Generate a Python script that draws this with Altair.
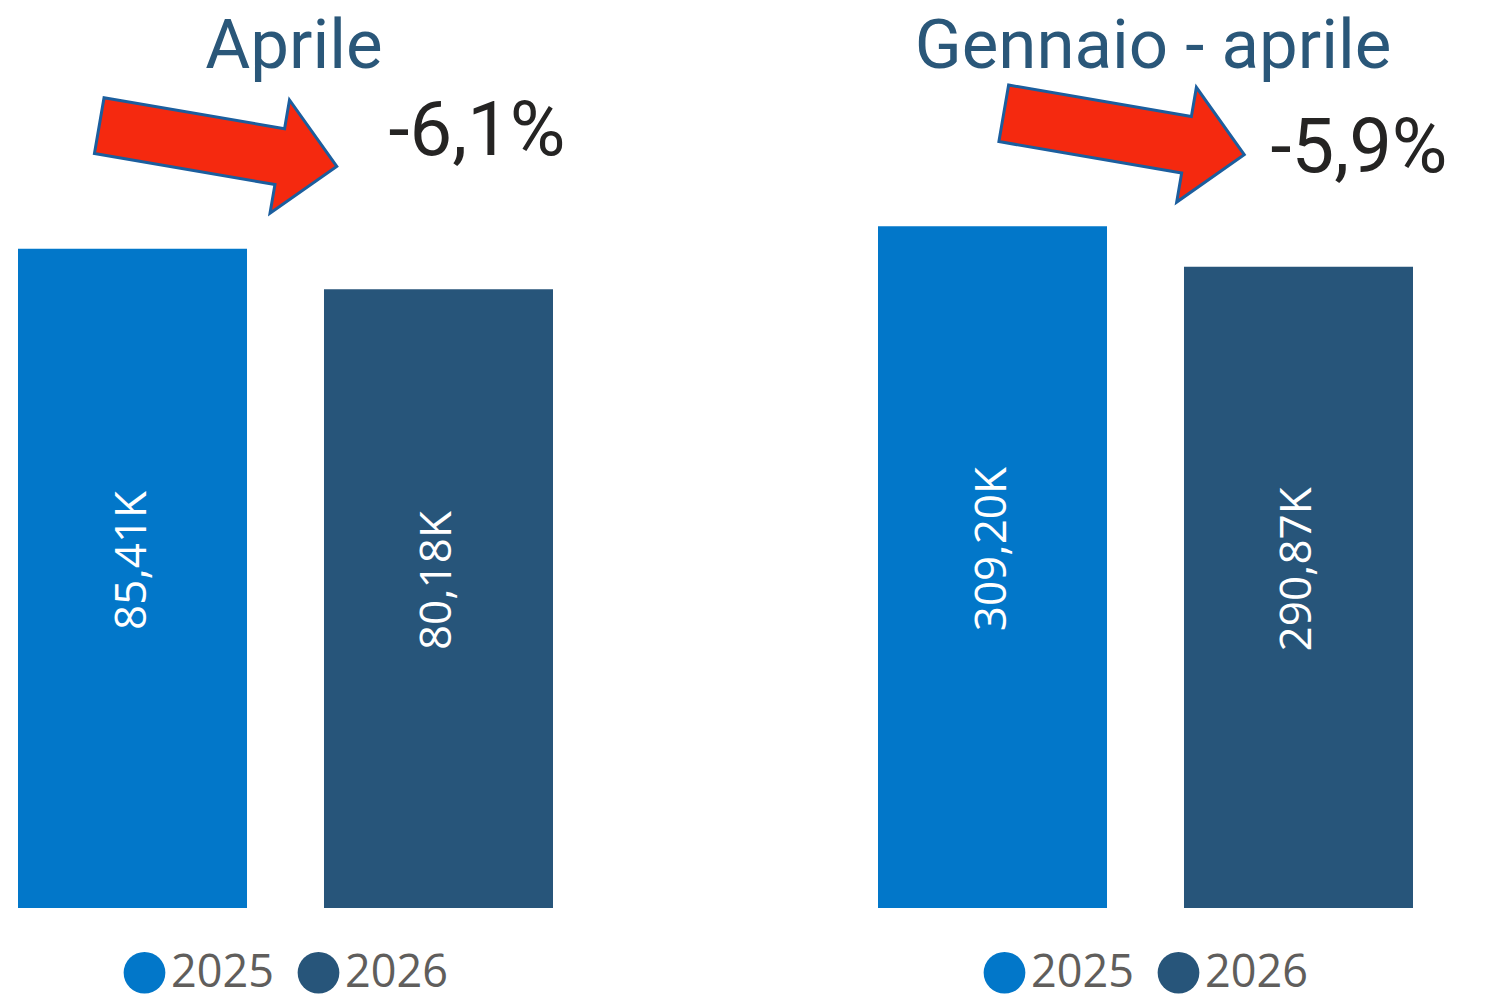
import altair as alt
import pandas as pd

# ---- data ----
years = ["2025", "2026"]
panel_titles = ["Aprile", "Gennaio - aprile"]
values_k = [[85.41, 80.18], [309.20, 290.87]]
value_labels = [["85,41K", "80,18K"], ["309,20K", "290,87K"]]
change_labels = ["-6,1%", "-5,9%"]

# ---- styling / layout ----
BLUE = "#0277C9"
NAVY = "#27557A"
TITLE_C = "#2A5779"
DARK = "#252423"
GREY = "#605E5C"
ARROW_RED = "#F5290F"
ARROW_EDGE = "#1B5E9E"
ARROW_PATH = ("M -1 -0.235 L 0.52 -0.235 L 0.52 -0.477 L 1 0 "
              "L 0.52 0.477 L 0.52 0.235 L -1 0.235 Z")

PANEL_W = 535
PANEL_H = 896
Y_MAX = [116.1, 406.4]

LAYOUT = [
    dict(title_x=276, pct_x=459, pct_y=143, arrow_x=200, arrow_y=134, arrow_len=241),
    dict(title_x=275, pct_x=481, pct_y=160, arrow_x=246, arrow_y=122, arrow_len=244),
]


def panel(i):
    L = LAYOUT[i]
    df = pd.DataFrame({"year": years, "value": values_k[i], "label": value_labels[i]})
    ann = pd.DataFrame({"title": [panel_titles[i]], "change": [change_labels[i]]})

    x = alt.X("year:N", axis=None, sort=years,
              scale=alt.Scale(paddingInner=0.2516, paddingOuter=0))
    yscale = alt.Scale(domain=[0, Y_MAX[i]], nice=False, zero=True)
    color = alt.Color(
        "year:N",
        scale=alt.Scale(domain=years, range=[BLUE, NAVY]),
        legend=alt.Legend(
            orient="none", legendX=104, legendY=938, direction="horizontal",
            title=None, symbolType="circle", symbolSize=1740, symbolStrokeWidth=0,
            symbolOpacity=1, labelFontSize=45, labelFont="Open Sans",
            labelColor=GREY, labelOffset=4, columnPadding=22, padding=0,
        ),
    )

    bars = alt.Chart(df).mark_bar().encode(
        x=x, y=alt.Y("value:Q", axis=None, scale=yscale), color=color
    )
    labels = alt.Chart(df).transform_calculate(mid="datum.value / 2").mark_text(
        angle=270, dx=18, font="Open Sans", fontSize=44, color="white",
        align="center", baseline="middle",
    ).encode(x=x, y=alt.Y("mid:Q", axis=None, scale=yscale), text="label:N")

    title = alt.Chart(ann).mark_text(
        font="Roboto", fontSize=69, color=TITLE_C, align="center",
        baseline="alphabetic",
    ).encode(x=alt.value(L["title_x"]), y=alt.value(56), text="title:N")

    pct = alt.Chart(ann).mark_text(
        font="Roboto", fontSize=76, color=DARK, align="center",
        baseline="alphabetic",
    ).encode(x=alt.value(L["pct_x"]), y=alt.value(L["pct_y"]), text="change:N")

    arrow = alt.Chart(ann).mark_point(
        shape=ARROW_PATH, filled=True, fill=ARROW_RED, stroke=ARROW_EDGE,
        strokeWidth=3, size=L["arrow_len"] ** 2, angle=9.75, opacity=1,
        fillOpacity=1, strokeOpacity=1,
    ).encode(x=alt.value(L["arrow_x"]), y=alt.value(L["arrow_y"]))

    return alt.layer(bars, labels, arrow, pct, title).properties(
        width=PANEL_W, height=PANEL_H
    )


chart = alt.hconcat(panel(0), panel(1), spacing=325, bounds="flush").resolve_scale(
    x="independent", y="independent", color="independent"
).resolve_legend(color="independent").properties(
    padding={"left": 10, "top": 4, "right": 5, "bottom": 5}
).configure_view(stroke=None)

chart.save("out.html", embed_options={"renderer": "svg", "actions": False})
